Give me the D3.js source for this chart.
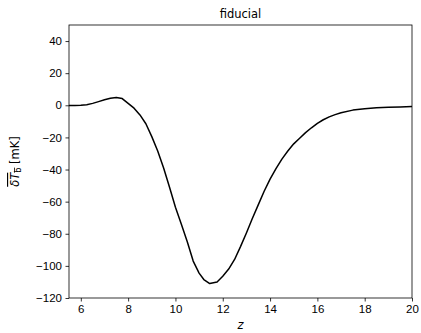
<!DOCTYPE html>
<html lang="en">
<head>
  <meta charset="UTF-8">
  <title>fiducial</title>
  <style>
    body { margin: 0; background: #fff; }
    svg { display: block; font-family: "DejaVu Sans", sans-serif; }
    .axis text { font-size: 11.5px; fill: #000; }
    .axis path, .axis line { stroke: #000; stroke-width: 0.8px; }
    .line { fill: none; stroke: #000; stroke-width: 1.5px; stroke-linejoin: round; }
  </style>
</head>
<body>
  <svg width="421" height="333"></svg>

  <script src="https://d3js.org/d3.v7.min.js"></script>
  <script>
    // redshift samples and mean brightness temperature (mK)
    const zVals = [5.5, 5.75, 6.0, 6.25, 6.5, 6.75, 7.0, 7.25, 7.5, 7.75, 8.0, 8.25,
                   8.5, 8.75, 9.0, 9.25, 9.5, 9.75, 10.0, 10.25, 10.5, 10.75, 11.0,
                   11.2, 11.45, 11.76, 12.0, 12.25, 12.5, 12.75, 13.0, 13.25, 13.5,
                   13.75, 14.0, 14.25, 14.5, 14.75, 15.0, 15.25, 15.5, 15.75, 16.0,
                   16.25, 16.5, 16.75, 17.0, 17.5, 18.0, 18.5, 19.0, 19.5, 20.0];
    const dTb = [-0.1, -0.1, 0.0, 0.4, 1.2, 2.3, 3.4, 4.4, 4.9, 4.2, 1.2, -1.8,
                 -6, -11.5, -19.5, -28.5, -39, -51, -63.5, -74, -85, -97, -104.5,
                 -108.5, -111, -110, -106.5, -102, -96, -88, -79.5, -70.5, -62,
                 -53.5, -46, -39.5, -33.5, -28.5, -24, -20.5, -17, -14, -11.3,
                 -9, -7.2, -5.8, -4.6, -3.0, -2.1, -1.5, -1.2, -1.0, -0.8];
    const xTicks = [6, 8, 10, 12, 14, 16, 18, 20];
    const yTicks = [-120, -100, -80, -60, -40, -20, 0, 20, 40];

    const margin = {left: 69, right: 9, top: 25, bottom: 35};
    const width = 421, height = 333;

    const svg = d3.select("svg");

    const x = d3.scaleLinear().domain([5.5, 20]).range([margin.left, width - margin.right]);
    const y = d3.scaleLinear().domain([-120, 50]).range([height - margin.bottom, margin.top]);

    // x axis
    svg.append("g")
       .attr("class", "axis")
       .attr("transform", `translate(0,${height - margin.bottom})`)
       .call(d3.axisBottom(x).tickValues(xTicks).tickSize(3.5).tickPadding(3.5).tickFormat(d3.format("d")))
       .call(g => g.select(".domain").remove());

    // y axis
    svg.append("g")
       .attr("class", "axis")
       .attr("transform", `translate(${margin.left},0)`)
       .call(d3.axisLeft(y).tickValues(yTicks).tickSize(3.5).tickPadding(3.5).tickFormat(d3.format("d")))
       .call(g => g.select(".domain").remove());

    // the curve
    svg.append("path")
       .datum(zVals.map((z, i) => [z, dTb[i]]))
       .attr("class", "line")
       .attr("d", d3.line().x(d => x(d[0])).y(d => y(d[1])));

    // frame
    svg.append("rect")
       .attr("x", margin.left)
       .attr("y", margin.top)
       .attr("width", width - margin.left - margin.right)
       .attr("height", height - margin.top - margin.bottom)
       .attr("fill", "none")
       .attr("stroke", "#000")
       .attr("stroke-width", 0.8);

    // title
    svg.append("text")
       .attr("x", (margin.left + width - margin.right) / 2)
       .attr("y", 18)
       .attr("text-anchor", "middle")
       .style("font-size", "11.5px")
       .text("fiducial");

    // x label
    svg.append("text")
       .attr("x", (margin.left + width - margin.right) / 2)
       .attr("y", 329)
       .attr("text-anchor", "middle")
       .style("font-size", "11.5px")
       .style("font-style", "italic")
       .text("z");

    // y label
    const yl = svg.append("text")
       .attr("transform", `translate(19,${(margin.top + height - margin.bottom) / 2}) rotate(-90)`)
       .attr("text-anchor", "middle")
       .style("font-size", "11.5px");
    const ov = yl.append("tspan").attr("text-decoration", "overline");
    ov.append("tspan").style("font-style", "italic").text("δT");
    ov.append("tspan").attr("dy", 2).style("font-size", "8px").text("b");
    yl.append("tspan").attr("dy", -2).text(" [mK]");
  </script>
</body>
</html>
